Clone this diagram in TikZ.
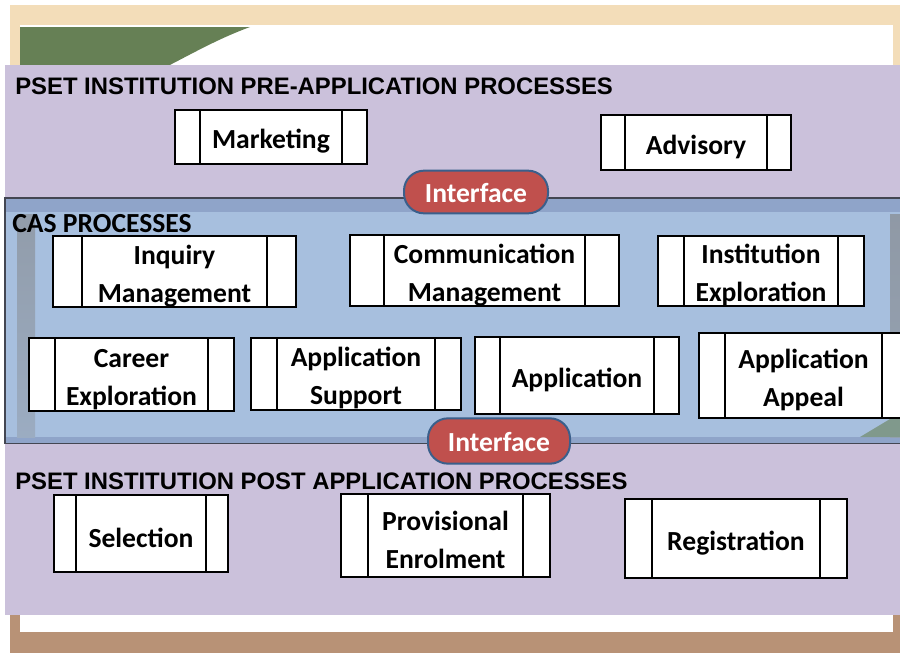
\documentclass[tikz,border=0pt]{standalone}
\usepackage{fontspec}
\newfontfamily\carlito{Carlito}
\newfontfamily\arialb{Liberation Sans}
\definecolor{cream}{HTML}{F3DDB9}
\definecolor{frambrown}{HTML}{B89276}
\definecolor{leafgreen}{HTML}{668055}
\definecolor{lavender}{HTML}{CBC1DB}
\definecolor{casblue}{HTML}{A7BFDE}
\definecolor{casstrip}{HTML}{8FA4C9}
\definecolor{casline}{HTML}{434652}
\definecolor{ifred}{HTML}{C0504D}
\definecolor{ifblue}{HTML}{3A5F8B}
\tikzset{
  rim/.code={\def\rimw{#1}},
  rim=26,
  proc/.style={draw=black, line width=1.4pt, fill=white, inner sep=0pt, align=center,
    font=\carlito\bfseries\fontsize{20.7}{28.5}\selectfont,
    path picture={
      \draw[line width=1.1pt] ([xshift=\rimw*0.75pt]path picture bounding box.north west)
        -- ([xshift=\rimw*0.75pt]path picture bounding box.south west);
      \draw[line width=1.1pt] ([xshift=-\rimw*0.75pt]path picture bounding box.north east)
        -- ([xshift=-\rimw*0.75pt]path picture bounding box.south east);
    }},
  iface/.style={draw=ifblue, line width=1.5pt, fill=ifred, text=white, rounded corners=15pt,
    inner sep=0pt, font=\carlito\bfseries\fontsize{20.7}{28}\selectfont},
  heading/.style={anchor=base west, inner sep=0pt, font=\arialb\bfseries\fontsize{17.9}{20}\selectfont},
}
\begin{document}
\begin{tikzpicture}[x=0.75pt,y=-0.75pt]
\useasboundingbox (0,0) rectangle (900,653);
\def\procbox#1#2#3#4#5#6#7{%
  \node[proc, rim=#6, minimum width={(#4-#2)*0.75pt}, minimum height={(#5-#3)*0.75pt}]
    (#1) at ({(#2+#4)/2},{(#3+#5)/2}) {\rule{0pt}{21pt}#7};}

% slide frame behind the panels
\fill[white] (0,0) rectangle (900,653);
\fill[cream] (10,5) rectangle (900,340);
\fill[frambrown] (10,340) rectangle (900,653);
\fill[white] (20,25) rectangle (893,632);
\fill[leafgreen] (20,27) -- (250,27) .. controls (215,40) and (190,55) .. (160,70) -- (20,70) -- cycle;

% panels
\fill[lavender] (5,65) rectangle (900,198);
\fill[lavender] (5,443) rectangle (900,615);
\filldraw[fill=casblue, draw=casline, line width=1pt] (5,198) rectangle (905,443);
\fill[casstrip] (5.5,198.5) rectangle (900,212);
\fill[casstrip] (5.5,437) rectangle (900,442.5);
\fill[top color=gray!55!casblue, bottom color=gray!30!casblue] (17,214) rectangle (35,437);
\fill[top color=gray!60!casblue, bottom color=gray!45!casblue] (890,214) rectangle (900,437);
\fill[leafgreen!60!casblue] (860,437) -- (900,413) -- (900,437) -- cycle;

\node[heading] (pretitle) at (15,94) {PSET INSTITUTION PRE-APPLICATION PROCESSES};
\node[heading, font=\carlito\bfseries\fontsize{20.7}{28}\selectfont] (castitle) at (12,232) {CAS PROCESSES};
\node[heading] (posttitle) at (15,489) {PSET INSTITUTION POST APPLICATION PROCESSES};

% pre-application
\procbox{marketing}{175}{110}{367}{164}{25}{Marketing}
\procbox{advisory}{601}{115}{791}{170}{24}{Advisory}

% cas processes
\procbox{inquiry}{53}{237}{296}{306}{29}{Inquiry\\Management}
\procbox{communication}{350}{236}{619}{305}{34}{Communication\\Management}
\procbox{institution}{658}{236}{864}{306}{26}{Institution\\Exploration}
\procbox{career}{29}{338}{234}{411}{26}{Career\\Exploration}
\procbox{support}{251}{338}{461}{410}{26}{Application\\Support}
\procbox{application}{475}{337}{679}{414}{25}{Application}
\procbox{appeal}{699}{333}{908}{418}{26}{Application\\Appeal}

% post application
\procbox{selection}{54}{495}{228}{572}{22}{Selection}
\procbox{provisional}{341}{494}{550}{577}{27}{Provisional\\Enrolment}
\procbox{registration}{625}{499}{847}{578}{27}{Registration}

\node[iface, minimum width=108pt, minimum height=32pt] (ifacetop) at (476,192) {\rule{0pt}{16pt}Interface};
\node[iface, minimum width=106.5pt, minimum height=34pt] (ifacebottom) at (499,441) {\rule{0pt}{16pt}Interface};

\end{tikzpicture}
\end{document}
